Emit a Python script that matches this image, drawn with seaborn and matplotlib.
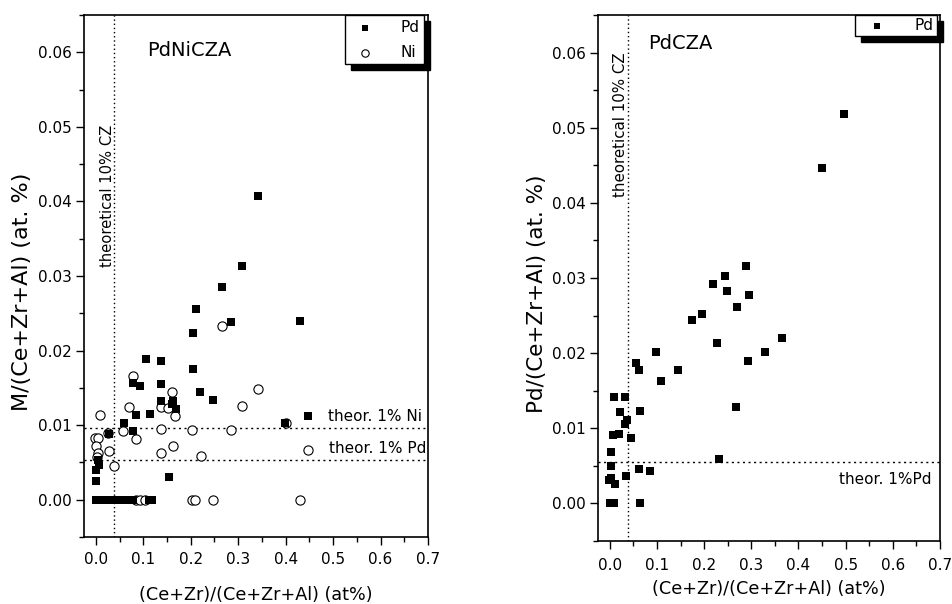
import numpy as np
import pandas as pd
import matplotlib
matplotlib.use("Agg")
import matplotlib.pyplot as plt
from matplotlib.ticker import AutoMinorLocator
import seaborn as sns

# ---- PdNiCZA: Pd and Ni content vs (Ce+Zr) fraction ----
pdni_pd_x = [0.266, 0.210, 0.284, 0.204, 0.105, 0.138, 0.204, 0.079, 0.093, 0.137,
             0.220, 0.246, 0.138, 0.163, 0.161, 0.168, 0.084, 0.114, 0.059, 0.079,
             0.027, 0.154, 0.004, 0.000, 0.006, 0.001, 0.399, 0.309, 0.430, 0.448,
             0.341,
             0.000, 0.006, 0.012, 0.018, 0.024, 0.030, 0.036, 0.042, 0.048, 0.054,
             0.060, 0.066, 0.072, 0.078, 0.112, 0.118]
pdni_pd_y = [0.0285, 0.0256, 0.0238, 0.0224, 0.0189, 0.0186, 0.0175, 0.0156, 0.0153, 0.0155,
             0.0144, 0.0134, 0.0133, 0.0133, 0.0128, 0.0122, 0.0114, 0.0115, 0.0103, 0.0092,
             0.0088, 0.0031, 0.0053, 0.0040, 0.0046, 0.0025, 0.0103, 0.0314, 0.0239, 0.0112,
             0.0407,
             0.0, 0.0, 0.0, 0.0, 0.0, 0.0, 0.0, 0.0, 0.0, 0.0,
             0.0, 0.0, 0.0, 0.0, 0.0, 0.0]

pdni_ni_x = [0.266, 0.079, 0.008, 0.160, 0.342, 0.070, 0.137, 0.152, 0.309, 0.167,
             0.138, 0.203, 0.284, 0.058, 0.084, -0.002, 0.005, 0.000, 0.027, 0.163,
             0.138, 0.221, 0.039, 0.004, 0.002, 0.448, 0.400, 0.026,
             0.085, 0.094, 0.103, 0.203, 0.208, 0.247, 0.430]
pdni_ni_y = [0.0233, 0.0166, 0.0114, 0.0145, 0.0149, 0.0124, 0.0124, 0.0123, 0.0126, 0.0112,
             0.0095, 0.0093, 0.0094, 0.0092, 0.0082, 0.0083, 0.0083, 0.0072, 0.0065, 0.0072,
             0.0062, 0.0059, 0.0045, 0.0062, 0.0057, 0.0066, 0.0103, 0.0090,
             0.0, 0.0, 0.0, 0.0, 0.0, 0.0, 0.0]

# ---- PdCZA: Pd content vs (Ce+Zr) fraction ----
pdcza_x = [0.497, 0.449, 0.289, 0.244, 0.219, 0.2485, 0.296, 0.270, 0.195, 0.174,
           0.365, 0.228, 0.330, 0.098, 0.292, 0.056, 0.061, 0.145, 0.109, 0.0085,
           0.033, 0.022, 0.064, 0.267, 0.037, 0.032, 0.0076, 0.020, 0.0445, 0.0034,
           0.232, 0.002, 0.061, 0.085, 0.034, 0.002, -0.0015, 0.0106, 0.000, 0.009,
           0.063]
pdcza_y = [0.0518, 0.0446, 0.0316, 0.0302, 0.0292, 0.0283, 0.0277, 0.0262, 0.0252, 0.0244,
           0.0220, 0.0214, 0.0202, 0.0201, 0.0189, 0.0187, 0.0177, 0.0177, 0.0163, 0.0142,
           0.0141, 0.0122, 0.0123, 0.0128, 0.0111, 0.0106, 0.0091, 0.0092, 0.0087, 0.0069,
           0.0059, 0.0050, 0.0046, 0.0043, 0.0037, 0.0034, 0.0031, 0.0026, 0.0, 0.0,
           0.0]

# reference lines
cz_theor = 0.039        # theoretical 10% CZ
ni_theor = 0.0096       # theor. 1% Ni
pd_theor_left = 0.0053  # theor. 1% Pd
pd_theor_right = 0.0055

x_ticks = [0.0, 0.1, 0.2, 0.3, 0.4, 0.5, 0.6, 0.7]
x_ticklabels = ["0.0", "0.1", "0.2", "0.3", "0.4", "0.5", "0.6", "0.7"]
y_ticks = [0.00, 0.01, 0.02, 0.03, 0.04, 0.05, 0.06]
y_ticklabels = ["0.00", "0.01", "0.02", "0.03", "0.04", "0.05", "0.06"]

sns.set_style("ticks")
plt.rcParams["font.family"] = ["DejaVu Sans"]
plt.rcParams["text.color"] = "black"
plt.rcParams["axes.labelcolor"] = "black"
plt.rcParams["xtick.color"] = "black"
plt.rcParams["ytick.color"] = "black"

fig = plt.figure(figsize=(9.53, 6.04), dpi=100)
W, H = 953, 604
ax1 = fig.add_axes([84 / W, 1 - 537 / H, (428 - 84) / W, (537 - 15) / H])
ax2 = fig.add_axes([598 / W, 1 - 541 / H, (940 - 598) / W, (541 - 15) / H])

df_pd = pd.DataFrame({"x": pdni_pd_x, "y": pdni_pd_y})
df_ni = pd.DataFrame({"x": pdni_ni_x, "y": pdni_ni_y})
df_r = pd.DataFrame({"x": pdcza_x, "y": pdcza_y})

sns.scatterplot(data=df_ni, x="x", y="y", marker="o", s=44, facecolor="white",
                edgecolor="black", linewidth=0.8, ax=ax1, label="Ni", zorder=3)
sns.scatterplot(data=df_pd, x="x", y="y", marker="s", s=32, color="black",
                linewidth=0, ax=ax1, label="Pd", zorder=4)
sns.scatterplot(data=df_r, x="x", y="y", marker="s", s=32, color="black",
                linewidth=0, ax=ax2, label="Pd", zorder=4)

for ax, xpad in ((ax1, 5), (ax2, 7)):
    ax.set_xlim(-0.025, 0.7)
    ax.set_ylim(-0.005, 0.065)
    ax.set_xticks(x_ticks)
    ax.set_xticklabels(x_ticklabels)
    ax.set_yticks(y_ticks)
    ax.set_yticklabels(y_ticklabels)
    ax.xaxis.set_minor_locator(AutoMinorLocator(2))
    ax.yaxis.set_minor_locator(AutoMinorLocator(2))
    ax.tick_params(which="major", direction="out", length=5.5, width=1.0,
                   labelsize=11, pad=3, color="black", labelcolor="black")
    ax.tick_params(axis="x", which="major", pad=xpad)
    ax.tick_params(which="minor", direction="out", length=3.5, width=1.0, color="black")
    for sp in ax.spines.values():
        sp.set_visible(True)
        sp.set_color("black")
        sp.set_linewidth(1.2)
    ax.axvline(cz_theor, color="black", linestyle=(0, (1, 2)), linewidth=1.0, zorder=2)
    ax.set_xlabel("(Ce+Zr)/(Ce+Zr+Al) (at%)", fontsize=12.7)

ax1.axhline(ni_theor, color="black", linestyle=(0, (1.5, 2.5)), linewidth=1.0, zorder=2)
ax1.axhline(pd_theor_left, color="black", linestyle=(0, (1.5, 2.5)), linewidth=1.0, zorder=2)
ax2.axhline(pd_theor_right, color="black", linestyle=(0, (1.5, 2.5)), linewidth=1.0, zorder=2)

ax1.set_ylabel("M/(Ce+Zr+Al) (at. %)", fontsize=16)
ax2.set_ylabel("Pd/(Ce+Zr+Al) (at. %)", fontsize=15.5)
ax1.yaxis.set_label_coords(-0.15, 0.47)
ax2.yaxis.set_label_coords(-0.148, 0.47)
ax1.xaxis.labelpad = 14
ax2.xaxis.labelpad = 5

ax1.text(0.107, 0.0603, "PdNiCZA", fontsize=14, ha="left", va="center")
ax2.text(0.0805, 0.0612, "PdCZA", fontsize=14, ha="left", va="center")

ax1.text(0.025, 0.0407, "theoretical 10% CZ", rotation=90, fontsize=10.6,
         ha="center", va="center")
ax2.text(0.022, 0.0504, "theoretical 10% CZ", rotation=90, fontsize=10.8,
         ha="center", va="center")

ax1.text(0.688, 0.0112, "theor. 1% Ni", fontsize=11, ha="right", va="center")
ax1.text(0.697, 0.0069, "theor. 1% Pd", fontsize=11, ha="right", va="center")
ax2.text(0.681, 0.00315, "theor. 1%Pd", fontsize=11, ha="right", va="center")

shadow = {"ox": 4, "oy": -4, "facecolor": "black", "edgecolor": "black", "alpha": 1}
h, l = ax1.get_legend_handles_labels()
order = [l.index("Pd"), l.index("Ni")]
leg1 = ax1.legend([h[i] for i in order], [l[i] for i in order],
                  loc="upper right", bbox_to_anchor=((424 - 84) / 344, 1.0),
                  borderaxespad=0, fancybox=False, shadow=shadow, framealpha=1,
                  edgecolor="black", fontsize=11, markerscale=0.8,
                  handletextpad=1.3, borderpad=0.3, labelspacing=0.65)
leg1.get_frame().set_linewidth(1.0)
leg2 = ax2.legend(loc="upper right", bbox_to_anchor=((937 - 598) / 342, 1.0),
                  borderaxespad=0, fancybox=False, shadow=shadow, framealpha=1,
                  edgecolor="black", fontsize=11, markerscale=0.8,
                  handletextpad=1.3, borderpad=0.2, handlelength=2.4)
leg2.get_frame().set_linewidth(1.0)

fig.savefig("out.png", dpi=100)
